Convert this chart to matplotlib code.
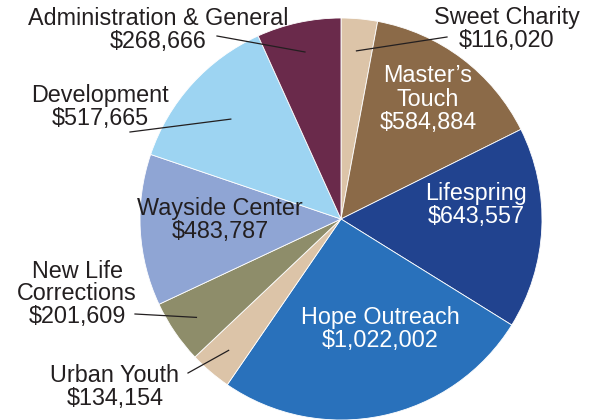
import numpy as np
import matplotlib.pyplot as plt

plt.rcParams['font.family'] = ['Liberation Sans', 'DejaVu Sans']

# slices, clockwise from 12 o'clock
names = ['Sweet Charity', 'Master\u2019s\nTouch', 'Lifespring', 'Hope Outreach',
         'Urban Youth', 'New Life\nCorrections', 'Wayside Center', 'Development',
         'Administration & General']
amounts = [116020, 584884, 643557, 1022002, 134154, 201609, 483787, 517665, 268666]
colors = ['#dcc4a8', '#8b6a48', '#21438f', '#2971bb', '#dcc4a8',
          '#8e8d6a', '#8fa5d4', '#9dd4f2', '#6a2a4b']

# label layout in pixel coords (image y down): text centre, leader end or None, text colour
label_pos = [(507, 29), (428, 99), (476, 205), (380, 329), (115, 387),
             (77, 294), (220, 220), (100, 107), (158, 30)]
leader_end = [(447, 37), None, None, None, (188, 373), (135, 314), None, (130, 132), (217, 36)]
leader_depth = [0.84, 0, 0, 0, 0.86, 0.87, 0, 0.74, 0.85]
text_white = [False, True, True, True, False, False, False, False, False]

cx, cy, r = 341, 219, 201

fig = plt.figure(figsize=(5.97, 4.20), dpi=100)
ax = fig.add_axes([0, 0, 1, 1])

# y axis runs downward, so counterclock=True from -90 reads clockwise from the top
wedges, _ = ax.pie(amounts, colors=colors, startangle=-90, counterclock=True,
                   center=(cx, cy), radius=r, frame=True,
                   wedgeprops=dict(edgecolor='white', linewidth=0.6))

ax.set_xlim(0, 597)
ax.set_ylim(420, 0)
ax.set_aspect('auto')
ax.axis('off')

for i, w in enumerate(wedges):
    label = f'{names[i]}\n${amounts[i]:,}'
    col = 'white' if text_white[i] else '#231f20'
    ax.text(label_pos[i][0], label_pos[i][1], label, ha='center', va='center',
            fontsize=16.8, color=col, linespacing=1.0)
    if leader_end[i] is not None:
        mid = np.deg2rad((w.theta1 + w.theta2) / 2)
        px = cx + leader_depth[i] * r * np.cos(mid)
        py = cy + leader_depth[i] * r * np.sin(mid)
        ax.plot([leader_end[i][0], px], [leader_end[i][1], py],
                color='#231f20', lw=0.9)

fig.savefig('out.png', dpi=100)
